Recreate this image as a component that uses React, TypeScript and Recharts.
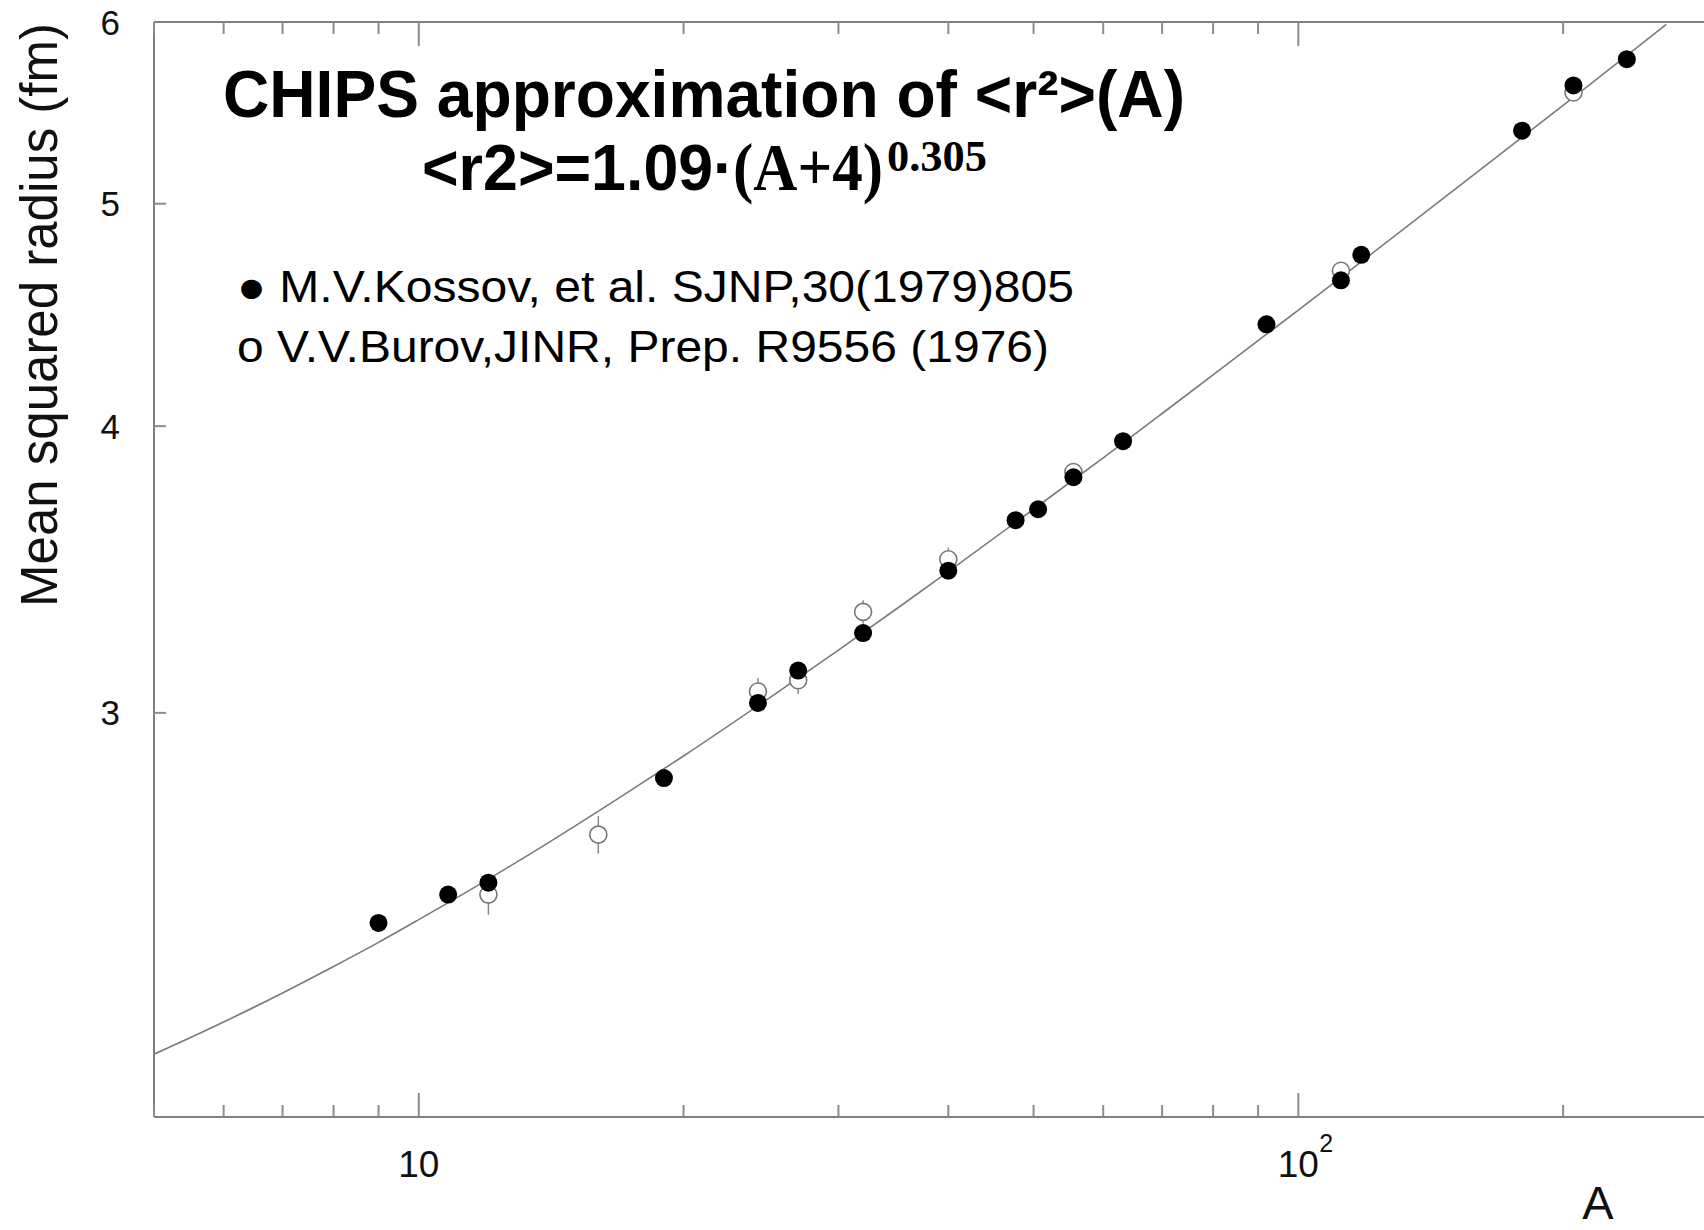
import React from 'react'
import { ComposedChart, Line, Scatter, XAxis, YAxis, ErrorBar } from 'recharts'

// CHIPS curve
const curveA = [5, 6, 7, 8, 9, 10, 12, 14, 17, 20, 25, 30, 35, 40, 50, 60, 70, 80, 100, 120, 150, 180, 210, 240, 262]
const curveR = [2.130, 2.200, 2.265, 2.326, 2.383, 2.438, 2.539, 2.632, 2.759, 2.873, 3.044, 3.195, 3.332, 3.457, 3.680, 3.875, 4.051, 4.211, 4.494, 4.742, 5.066, 5.348, 5.600, 5.829, 5.985]

// filled points: M.V.Kossov et al.
const kossovA = [9, 10.8, 12, 19, 24.3, 27, 32, 40, 47.7, 50.6, 55.5, 63.2, 92, 111.8, 117.9, 179.6, 205.5, 236.3]
const kossovR = [2.43, 2.5, 2.53, 2.81, 3.03, 3.13, 3.25, 3.46, 3.64, 3.68, 3.8, 3.94, 4.43, 4.63, 4.75, 5.38, 5.63, 5.78]

// open points: V.V.Burov
const burovA = [12, 16, 24.3, 27, 32, 40, 55.5, 111.8, 205.5]
const burovR = [2.5, 2.655, 3.065, 3.1, 3.32, 3.5, 3.82, 4.675, 5.59]
const burovErr = [0.05, 0.05, 0.042, 0.043, 0.039, 0.041, 0.03, 0.02, 0.02]

const xTicks = [5, 6, 7, 8, 9, 10, 20, 30, 40, 50, 60, 70, 80, 90, 100, 200, 300]
const yTicks = [3, 4, 5, 6]

const curve = curveA.map((a, i) => ({ a, r: curveR[i] }))
const kossov = kossovA.map((a, i) => ({ a, r: kossovR[i] }))
const burov = burovA.map((a, i) => ({ a, r: burovR[i], err: burovErr[i] }))

const SANS = '"Liberation Sans", Arial, Helvetica, sans-serif'
const SERIF = '"Liberation Serif", "Times New Roman", serif'
const FRAME = '#808080'
const TICK = '#8c8c8c'
const X_MARGIN = 60
const Y_MARGIN = 34

const BottomTick = (props: any) => {
  const { x, y, payload } = props
  const v = payload.value
  const major = v === 10 || v === 100
  const axisY = y - X_MARGIN
  return (
    <g>
      <line x1={x} x2={x} y1={axisY} y2={axisY - (major ? 24 : 12)} stroke={TICK} strokeWidth={2} />
      {major && (
        <text x={x} y={y} textAnchor="middle" fontFamily={SANS} fontSize={37} fill="#111">10</text>
      )}
      {v === 100 && (
        <text x={x + 21} y={y - 25} fontFamily={SANS} fontSize={25} fill="#111">2</text>
      )}
    </g>
  )
}

const TopTick = (props: any) => {
  const { x, y, payload } = props
  const major = payload.value === 10 || payload.value === 100
  return <line x1={x} x2={x} y1={y} y2={y + (major ? 24 : 12)} stroke={TICK} strokeWidth={2} />
}

const LeftTick = (props: any) => {
  const { x, y, payload } = props
  const axisX = x + Y_MARGIN
  return (
    <g>
      {payload.value !== 6 && <line x1={axisX} x2={axisX + 12} y1={y} y2={y} stroke={TICK} strokeWidth={2} />}
      <text x={x} y={y} textAnchor="end" dominantBaseline="central" fontFamily={SANS} fontSize={35} fill="#111">
        {payload.value}
      </text>
    </g>
  )
}

const RightTick = (props: any) => {
  const { x, y, payload } = props
  if (payload.value === 6) return <g />
  return <line x1={x} x2={x - 14} y1={y} y2={y} stroke={TICK} strokeWidth={2} />
}

const FilledDot = (props: any) => <circle cx={props.cx} cy={props.cy} r={9} fill="#000" />
const OpenDot = (props: any) => (
  <circle cx={props.cx} cy={props.cy} r={8.5} fill="#fff" stroke="#777" strokeWidth={1.6} />
)

export default function App() {
  return (
    <div style={{ position: 'absolute', left: 0, top: 0, width: 1704, height: 1230, overflow: 'hidden', background: '#fff' }}>
      <ComposedChart width={1740} height={1230} margin={{ top: 21, right: 21, bottom: 112, left: 153 }}>
        <XAxis
          dataKey="a"
          type="number"
          scale="log"
          domain={[5, 300]}
          allowDataOverflow
          ticks={xTicks}
          interval={0}
          height={1}
          tickSize={0}
          tickMargin={X_MARGIN}
          tick={BottomTick}
          axisLine={{ stroke: FRAME, strokeWidth: 2 }}
        />
        <XAxis
          xAxisId="top"
          orientation="top"
          dataKey="a"
          type="number"
          scale="log"
          domain={[5, 300]}
          allowDataOverflow
          ticks={xTicks}
          interval={0}
          height={1}
          tickSize={0}
          tickMargin={0}
          tick={TopTick}
          axisLine={{ stroke: FRAME, strokeWidth: 2 }}
        />
        <YAxis
          type="number"
          scale="log"
          domain={[2, 6]}
          allowDataOverflow
          ticks={yTicks}
          interval={0}
          width={1}
          tickSize={0}
          tickMargin={Y_MARGIN}
          tick={LeftTick}
          axisLine={{ stroke: FRAME, strokeWidth: 2 }}
        />
        <YAxis
          yAxisId="right"
          orientation="right"
          type="number"
          scale="log"
          domain={[2, 6]}
          allowDataOverflow
          ticks={yTicks}
          interval={0}
          width={1}
          tickSize={0}
          tickMargin={0}
          tick={RightTick}
          axisLine={{ stroke: FRAME, strokeWidth: 2 }}
        />
        <Line
          data={curve}
          dataKey="r"
          type="monotone"
          stroke="#7a7a7a"
          strokeWidth={1.6}
          dot={false}
          activeDot={false}
          isAnimationActive={false}
        />
        <Scatter data={burov} dataKey="r" shape={OpenDot} isAnimationActive={false}>
          <ErrorBar dataKey="err" direction="y" width={0} stroke="#888" strokeWidth={1.5} />
        </Scatter>
        <Scatter data={kossov} dataKey="r" shape={FilledDot} isAnimationActive={false} />
      </ComposedChart>

      <svg width={1704} height={1230} style={{ position: 'absolute', left: 0, top: 0, pointerEvents: 'none' }}>
        <text x={223} y={117} fontFamily={SANS} fontWeight="bold" fontSize={66} textLength={962} lengthAdjust="spacingAndGlyphs">
          CHIPS approximation of &lt;r²&gt;(A)
        </text>
        <text x={422} y={190} fontFamily={SANS} fontWeight="bold" fontSize={64} textLength={312} lengthAdjust="spacingAndGlyphs">
          &lt;r2&gt;=1.09·
        </text>
        <text fontFamily={SERIF} fontWeight="bold">
          <tspan x={733} y={190} fontSize={68} textLength={150} lengthAdjust="spacingAndGlyphs">(A+4)</tspan>
          <tspan x={887} y={171} fontSize={44} textLength={100} lengthAdjust="spacingAndGlyphs">0.305</tspan>
        </text>

        <text x={237} y={302} fontFamily={SANS} fontSize={45} textLength={837} lengthAdjust="spacingAndGlyphs">
          ● M.V.Kossov, et al. SJNP,30(1979)805
        </text>
        <text x={237} y={362} fontFamily={SANS} fontSize={45} textLength={812} lengthAdjust="spacingAndGlyphs">
          o V.V.Burov,JINR, Prep. R9556 (1976)
        </text>

        <text
          x={57}
          y={315}
          transform="rotate(-90 57 315)"
          textAnchor="middle"
          fontFamily={SANS}
          fontSize={51}
          fill="#111"
        >
          Mean squared radius (fm)
        </text>
        <text x={1598} y={1219} textAnchor="middle" fontFamily={SANS} fontSize={47} fill="#111">
          A
        </text>
      </svg>
    </div>
  )
}
